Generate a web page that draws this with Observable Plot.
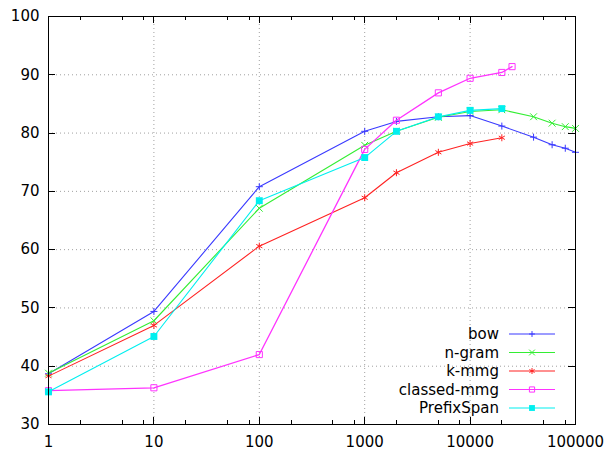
<!DOCTYPE html>
<html>
<head>
<meta charset="utf-8">
<script src="https://cdn.jsdelivr.net/npm/d3@7"></script>
<script src="https://cdn.jsdelivr.net/npm/@observablehq/plot@0.6"></script>
<style>
  html, body { margin: 0; padding: 0; background: white; }
  #chart { width: 606px; height: 450px; overflow: hidden; }
</style>
</head>
<body>
<div id="chart"></div>
<script>
// ---- data ----
const seriesNames = ["bow", "n-gram", "k-mmg", "classed-mmg", "PrefixSpan"];
const seriesColors = ["#3a3aff", "#33ee33", "#ff2222", "#ff33ff", "#00efef"];
const seriesSymbols = ["plus", "times", "asterisk", "square2", "square"];

const bowX = [1, 10, 100, 1000, 2000, 5000, 10000, 20000, 40000, 60000, 80000, 100000];
const bowY = [38.7, 49.4, 70.8, 80.3, 82.0, 82.8, 83.0, 81.2, 79.3, 78.0, 77.4, 76.7];
const ngramX = [1, 10, 100, 1000, 2000, 5000, 10000, 20000, 40000, 60000, 80000, 100000];
const ngramY = [38.8, 47.8, 67.1, 77.9, 80.3, 82.7, 83.7, 84.0, 82.8, 81.7, 81.1, 80.8];
const kmmgX = [1, 10, 100, 1000, 2000, 5000, 10000, 20000];
const kmmgY = [38.3, 47.0, 60.6, 68.9, 73.2, 76.7, 78.2, 79.2];
const classedX = [1, 10, 100, 1000, 2000, 5000, 10000, 20000, 25000];
const classedY = [35.8, 36.3, 42.0, 77.2, 82.2, 86.9, 89.4, 90.4, 91.4];
const prefixX = [1, 10, 100, 1000, 2000, 5000, 10000, 20000];
const prefixY = [35.6, 45.1, 68.4, 75.8, 80.3, 82.8, 83.9, 84.2];

const xTicks = [1, 10, 100, 1000, 10000, 100000];
const xMinorTicks = [2, 5, 8, 20, 50, 80, 200, 500, 800, 2000, 5000, 8000, 20000, 50000, 80000];
const yTicks = [30, 40, 50, 60, 70, 80, 90, 100];

// ---- build ----
const seriesX = [bowX, ngramX, kmmgX, classedX, prefixX];
const seriesY = [bowY, ngramY, kmmgY, classedY, prefixY];
const rows = seriesNames.map((name, i) =>
  seriesX[i].map((x, j) => ({series: name, x, y: seriesY[i][j]})));

const symbolR = {plus: 2.4, times: 3.2, asterisk: 3.3, square2: 3.9, square: 3.9};
const fillSymbols = new Set(["square"]);

const marks = [
  Plot.gridX(xTicks.slice(1, -1), {stroke: "#a0a0a0", strokeOpacity: 1, strokeDasharray: "1,3"}),
  Plot.gridY(yTicks.slice(1, -1), {stroke: "#a0a0a0", strokeOpacity: 1, strokeDasharray: "1,3"}),
  Plot.axisX({ticks: xTicks, anchor: "bottom", tickSize: 0, tickPadding: 12, fontSize: 15, tickFormat: d => String(d), label: null}),
  Plot.axisY({ticks: yTicks, anchor: "left", tickSize: 0, tickPadding: 9, fontSize: 15, label: null})
];
rows.forEach((data, i) => {
  const sym = seriesSymbols[i];
  marks.push(Plot.line(data, {x: "x", y: "y", stroke: seriesColors[i], strokeWidth: i === 3 ? 1.3 : 1.1}));
  marks.push(Plot.dot(data, {
    x: "x", y: "y", symbol: () => sym, r: symbolR[sym],
    fill: fillSymbols.has(sym) ? seriesColors[i] : "none",
    stroke: fillSymbols.has(sym) ? "none" : seriesColors[i],
    strokeWidth: 1
  }));
});
marks.push(Plot.frame({stroke: "black", strokeWidth: 1}));

const plot = Plot.plot({
  width: 606,
  height: 450,
  marginLeft: 48,
  marginRight: 31,
  marginTop: 16,
  marginBottom: 26,
  style: {fontFamily: "'DejaVu Sans', sans-serif", fontSize: "15px", color: "black", background: "white"},
  x: {type: "log", domain: [1, 100000]},
  y: {domain: [30, 100]},
  symbol: {type: "identity"},
  marks
});
document.getElementById("chart").appendChild(plot);

// ---- inward ticks (gnuplot style) and legend ----
const sx = plot.scale("x"), sy = plot.scale("y");
const svg = d3.select(plot);
const y0 = sy.apply(30), y1 = sy.apply(100);
const x0 = sx.apply(1), x1 = sx.apply(100000);
const g = svg.append("g").attr("stroke", "black").attr("stroke-width", 1);
function xt(v, len) {
  const x = Math.round(sx.apply(v)) + 0.5;
  g.append("line").attr("x1", x).attr("x2", x).attr("y1", y0).attr("y2", y0 - len);
  g.append("line").attr("x1", x).attr("x2", x).attr("y1", y1).attr("y2", y1 + len);
}
xTicks.forEach(v => xt(v, 7));
xMinorTicks.forEach(v => xt(v, 4));
yTicks.forEach(v => {
  const y = Math.round(sy.apply(v)) + 0.5;
  g.append("line").attr("x1", x0).attr("x2", x0 + 7).attr("y1", y).attr("y2", y);
  g.append("line").attr("x1", x1).attr("x2", x1 - 7).attr("y1", y).attr("y2", y);
});

const symMap = {plus: d3.symbolPlus, times: d3.symbolTimes, asterisk: d3.symbolAsterisk, square2: d3.symbolSquare2, square: d3.symbolSquare};
const lg = svg.append("g").attr("font-family", "'DejaVu Sans', sans-serif").attr("font-size", 15);
seriesNames.forEach((name, i) => {
  const yy = 334 + i * 18.5;
  lg.append("text").attr("x", 499).attr("y", yy).attr("dy", "0.35em")
    .attr("text-anchor", "end").attr("fill", "black").text(name);
  lg.append("line").attr("x1", 509).attr("x2", 555).attr("y1", yy).attr("y2", yy)
    .attr("stroke", seriesColors[i]).attr("stroke-width", 1.1);
  const sym = seriesSymbols[i];
  const r = symbolR[sym] * 0.85;
  lg.append("path")
    .attr("transform", `translate(532,${yy})`)
    .attr("d", d3.symbol(symMap[sym], Math.PI * r * r)())
    .attr("fill", fillSymbols.has(sym) ? seriesColors[i] : "none")
    .attr("stroke", fillSymbols.has(sym) ? "none" : seriesColors[i])
    .attr("stroke-width", 1);
});
</script>
</body>
</html>
